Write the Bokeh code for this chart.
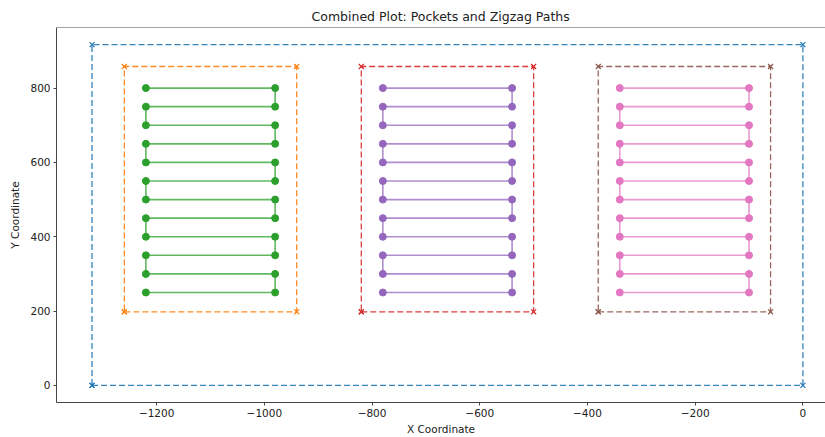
from bokeh.plotting import figure
from bokeh.models import Range1d, FixedTicker, CustomJSTickFormatter, Span
from bokeh.embed import file_html
from bokeh.resources import INLINE

# ---- data ----
outer_x = [-1320, 0, 0, -1320, -1320]
outer_y = [0, 0, 917, 917, 0]

pocket_xmin = [-1260, -820, -380]
pocket_xmax = [-940, -500, -60]
pocket_ymin = [198, 198, 198]
pocket_ymax = [858, 858, 858]

zig_xleft = [-1220, -780, -340]
zig_xright = [-980, -540, -100]
zig_rows = [800, 750, 700, 650, 600, 550, 500, 450, 400, 350, 300, 250]

x_ticks = [-1200, -1000, -800, -600, -400, -200, 0]
y_ticks = [0, 200, 400, 600, 800]

outer_color = "#1f77b4"
pocket_colors = ["#ff7f0e", "#d62728", "#8c564b"]
zig_colors = ["#2ca02c", "#9467bd", "#e377c2"]

X0, X1 = -1386, 42
Y0, Y1 = -46, 963

p = figure(width=825, height=437, output_backend="svg", toolbar_location=None,
           x_range=Range1d(X0, X1), y_range=Range1d(Y0, Y1),
           min_border_left=56, min_border_right=0, min_border_top=27, min_border_bottom=34,
           title="Combined Plot: Pockets and Zigzag Paths")

p.title.text_font = "DejaVu Sans"
p.title.text_font_size = "12.5px"
p.title.text_font_style = "normal"
p.title.text_color = "#222222"
p.title.align = "left"
p.title.offset = 255
p.title.standoff = 7

p.outline_line_color = None
p.xgrid.visible = False
p.ygrid.visible = False
p.background_fill_color = "white"
p.border_fill_color = "white"

fmt = CustomJSTickFormatter(code="return tick < 0 ? '\u2212' + Math.abs(tick) : String(tick);")
for ax, ticks, label in ((p.xaxis[0], x_ticks, "X Coordinate"), (p.yaxis[0], y_ticks, "Y Coordinate")):
    ax.ticker = FixedTicker(ticks=ticks)
    ax.formatter = fmt
    ax.axis_label = label
    ax.axis_label_text_font = "DejaVu Sans"
    ax.axis_label_text_font_size = "10.5px"
    ax.axis_label_text_font_style = "normal"
    ax.axis_label_text_color = "#222222"
    ax.major_label_text_font = "DejaVu Sans"
    ax.major_label_text_font_size = "10.5px"
    ax.major_label_text_color = "#222222"
    ax.axis_line_color = "#444444"
    ax.axis_line_width = 1
    ax.major_tick_line_color = "#444444"
    ax.major_tick_out = 3
    ax.major_tick_in = 0
    ax.minor_tick_line_color = None
    ax.major_label_standoff = 3
p.xaxis[0].axis_label_standoff = 3
p.yaxis[0].axis_label_standoff = 6

p.add_layout(Span(location=Y1, dimension="width", line_color="#444444", line_width=1))

DASH = "6 3"

# outer boundary
p.line(outer_x, outer_y, line_color=outer_color, line_width=1.3, line_dash=DASH, line_alpha=0.9)
p.scatter(outer_x, outer_y, marker="x", size=7, line_color=outer_color, line_width=1.2)

for i in range(3):
    px = [pocket_xmin[i], pocket_xmax[i], pocket_xmax[i], pocket_xmin[i], pocket_xmin[i]]
    py = [pocket_ymin[i], pocket_ymin[i], pocket_ymax[i], pocket_ymax[i], pocket_ymin[i]]
    p.line(px, py, line_color=pocket_colors[i], line_width=1.3, line_dash=DASH, line_alpha=0.9)
    p.scatter(px, py, marker="x", size=7, line_color=pocket_colors[i], line_width=1.2)

    zx, zy = [], []
    for r, yv in enumerate(zig_rows):
        if r % 2 == 0:
            zx += [zig_xleft[i], zig_xright[i]]
        else:
            zx += [zig_xright[i], zig_xleft[i]]
        zy += [yv, yv]
    p.line(zx, zy, line_color=zig_colors[i], line_width=1.6, line_alpha=0.75)
    p.scatter(zx, zy, marker="circle", size=7, fill_color=zig_colors[i], line_color=zig_colors[i])

open("out.html", "w").write(file_html(p, INLINE))
